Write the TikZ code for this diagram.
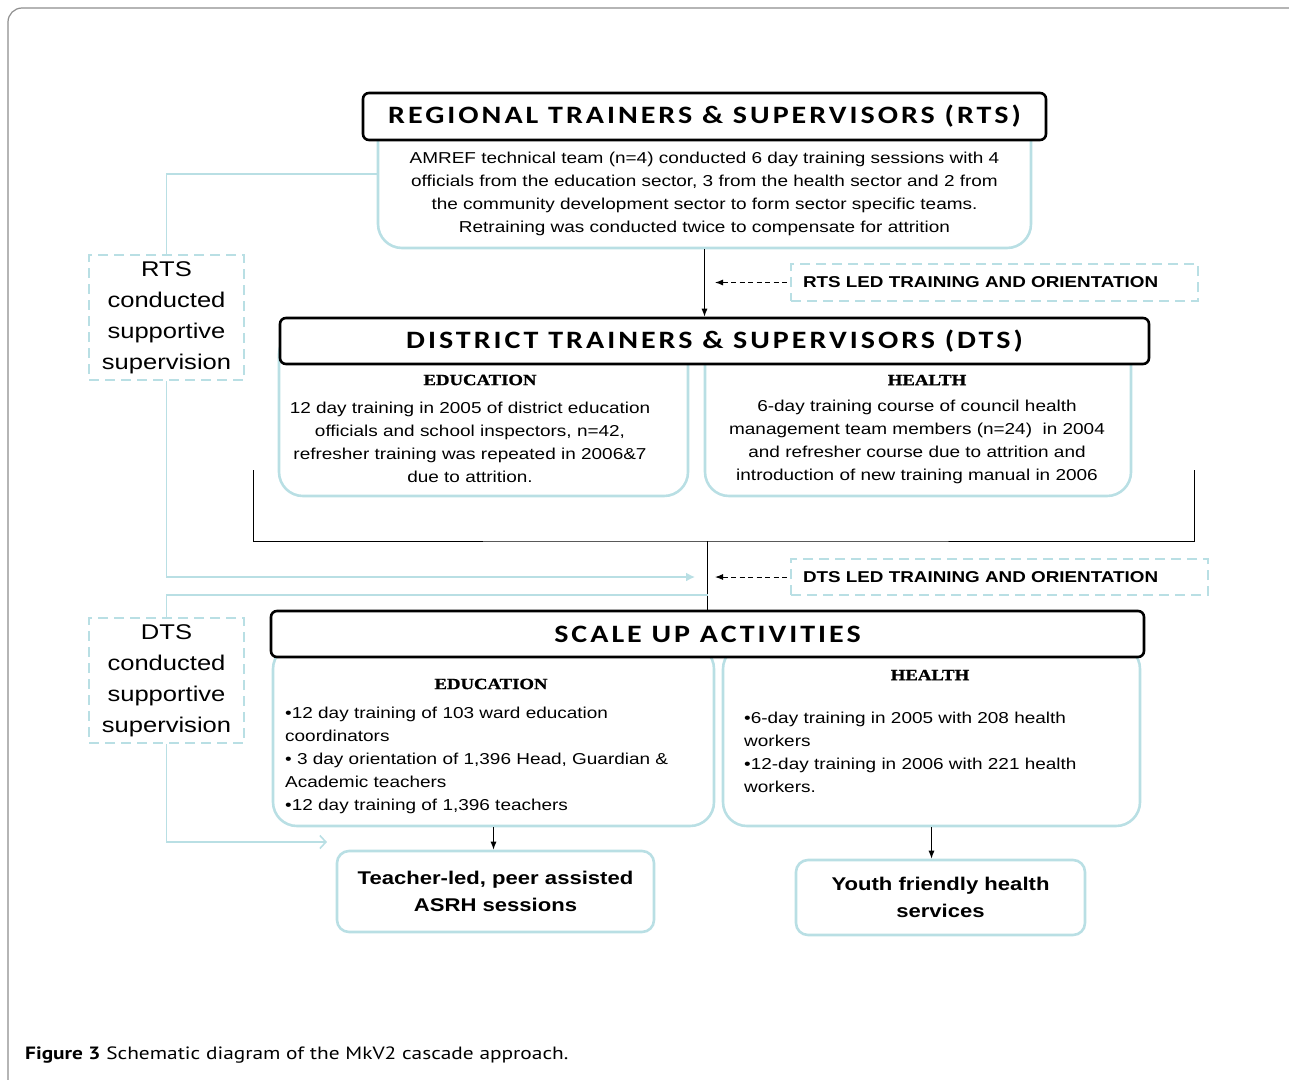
\documentclass[tikz,border=0pt]{standalone}
\usepackage{fontspec}
\setmainfont{Liberation Sans}[FakeStretch=1.2]
\newfontfamily\headfont{Carlito}[FakeStretch=1.2, LetterSpace=12]
\newfontfamily\sectorfont{Liberation Serif}[FakeStretch=1.2, FakeBold=1.2]
\newfontfamily\captionfont{PT Sans}[FakeStretch=1.2]
\usepackage[HTML]{xcolor}
\usepackage{tikz}
\usetikzlibrary{positioning, arrows, arrows.meta}

\definecolor{paleblue}{HTML}{B9DFE4}
\definecolor{framegray}{HTML}{8E8E8E}

\begin{document}
\begin{tikzpicture}[x=1pt, y=-1pt, >={Latex[length=8pt,width=6pt]},
  every node/.style={font=\fontsize{15.8}{23}\selectfont, inner sep=0pt},
  headbox/.style={draw=black, line width=2.6pt, rounded corners=6pt, fill=white, font=\headfont\bfseries\fontsize{25}{28}\selectfont},
  bodybox/.style={draw=paleblue, line width=2.6pt, rounded corners=24pt},
  sectorlabel/.style={font=\sectorfont\bfseries\fontsize{15.6}{18}\selectfont},
  supbox/.style={draw=paleblue, line width=2.6pt, dash pattern=on 10pt off 6pt, minimum width=155, minimum height=125, align=center, font=\fontsize{21.3}{31}\selectfont},
  ledbox/.style={draw=paleblue, line width=2.6pt, dash pattern=on 10pt off 6pt, inner xsep=12pt, align=left, font=\bfseries\fontsize{15.7}{18}\selectfont},
  outbox/.style={draw=paleblue, line width=2.6pt, rounded corners=12pt, align=center, font=\bfseries\fontsize{18.4}{27}\selectfont},
  paleline/.style={draw=paleblue, line width=1.6pt},
  ledarrow/.style={<-, line width=1pt, dash pattern=on 5pt off 3.5pt}]
\useasboundingbox (0,0) rectangle (1289,1079);

% Frame and caption
\draw[framegray, line width=1.2pt, rounded corners=14pt] (8,1100) -- (8,8) -- (1289,8);
\node[anchor=west, font=\captionfont\fontsize{17.8}{20}\selectfont] (caption) at (25,1055) {\textbf{Figure 3} Schematic diagram of the MkV2 cascade approach.};

% Define the nodes
% Regional level
\node[bodybox, minimum width=653, minimum height=138] (rtsbody) at (704.5,179) {};
\node[headbox, minimum width=683, minimum height=47] (rtshead) at (704.5,116.5) {REGIONAL TRAINERS \& SUPERVISORS (RTS)};
\node[align=center] (rtstext) at (704.5,194) {AMREF technical team (n=4) conducted 6 day training sessions with 4\\officials from the education sector, 3 from the health sector and 2 from\\the community development sector to form sector specific teams.\\Retraining was conducted twice to compensate for attrition};

% District level
\node[bodybox, minimum width=409, minimum height=166] (dtsedu) at (483.5,413) {};
\node[bodybox, minimum width=426, minimum height=166] (dtshealth) at (918,413) {};
\node[headbox, minimum width=869, minimum height=46] (dtshead) at (714.5,341) {DISTRICT TRAINERS \& SUPERVISORS (DTS)};
\node[sectorlabel] (dtsedulabel) at (480,380) {EDUCATION};
\node[sectorlabel] (dtshealthlabel) at (927,380) {HEALTH};
\node[align=center] (dtsedutext) at (470,442) {12 day training in 2005 of district education\\officials and school inspectors, n=42,\\refresher training was repeated in 2006\&7\\due to attrition.};
\node[align=center] (dtshealthtext) at (917,442) {6-day training course of council health\\management team members (n=24) \ in 2004\\and refresher course due to attrition and\\introduction of new training manual in 2006};

% Scale up level
\node[bodybox, minimum width=441, minimum height=181] (scaleedu) at (493.5,735.5) {};
\node[bodybox, minimum width=417, minimum height=181] (scalehealth) at (931.5,735.5) {};
\node[headbox, minimum width=873, minimum height=46] (scalehead) at (707.5,634) {SCALE UP ACTIVITIES};
\node[sectorlabel] (scaleedulabel) at (491,684) {EDUCATION};
\node[sectorlabel] (scalehealthlabel) at (930,675) {HEALTH};
\node[anchor=west, align=left] (scaleedutext) at (285,760) {\textbullet12 day training of 103 ward education\\coordinators\\\textbullet\ 3 day orientation of 1,396 Head, Guardian \&\\Academic teachers\\\textbullet12 day training of 1,396 teachers};
\node[anchor=west, align=left] (scalehealthtext) at (744,752) {\textbullet6-day training in 2005 with 208 health\\workers\\\textbullet12-day training in 2006 with 221 health\\workers.};

% Outcomes
\node[outbox, minimum width=317, minimum height=81] (teacher) at (495.5,891.5) {Teacher-led, peer assisted\\ASRH sessions};
\node[outbox, minimum width=289, minimum height=75] (youth) at (940.5,897.5) {Youth friendly health\\services};

% Supervision and training boxes
\node[supbox] (rtssup) at (166.5,317.5) {RTS\\conducted\\supportive\\supervision};
\node[supbox] (dtssup) at (166.5,680.5) {DTS\\conducted\\supportive\\supervision};
\node[ledbox, text width=383, minimum height=37] (rtsled) at (994.5,282.5) {RTS LED TRAINING AND ORIENTATION};
\node[ledbox, text width=393, minimum height=36] (dtsled) at (999.5,577) {DTS LED TRAINING AND ORIENTATION};

% Connector points
\coordinate (rtsledtip) at (715,282.5);
\coordinate (dtsledtip) at (715,577);
\coordinate (bracketleft) at (253,470);
\coordinate (bracketright) at (1194,470);
\coordinate (bracketmid) at (707.5,541);
\coordinate (rtsin) at (695,577);
\coordinate (dtsout) at (707.5,595);
\coordinate (teachin) at (327,842);

% Draw the cascade
\draw[->, line width=1pt] (rtsbody.south) -- (rtsbody.south |- dtshead.north);
\draw[line width=1pt] (bracketleft) |- (bracketmid) -| (bracketright);
\draw[line width=1pt] (bracketmid) -- (scalehead.north);
\draw[->, line width=1pt] (scaleedu.south) -- (scaleedu.south |- teacher.north);
\draw[->, line width=1pt] (scalehealth.south) -- (scalehealth.south |- youth.north);

% Training arrows
\draw[ledarrow] (rtsledtip) -- (rtsled.west);
\draw[ledarrow] (dtsledtip) -- (dtsled.west);

% Supervision lines
\draw[paleline] ([yshift=5pt]rtsbody.west) -| (rtssup.north);
\draw[paleline, -{Latex[length=9pt,width=9pt]}, paleblue] (rtssup.south) |- (rtsin);
\draw[paleline] (dtsout) -| (dtssup.north);
\draw[paleline, -{Straight Barb[length=6pt,width=13pt]}, paleblue] (dtssup.south) |- (teachin);
\end{tikzpicture}
\end{document}
